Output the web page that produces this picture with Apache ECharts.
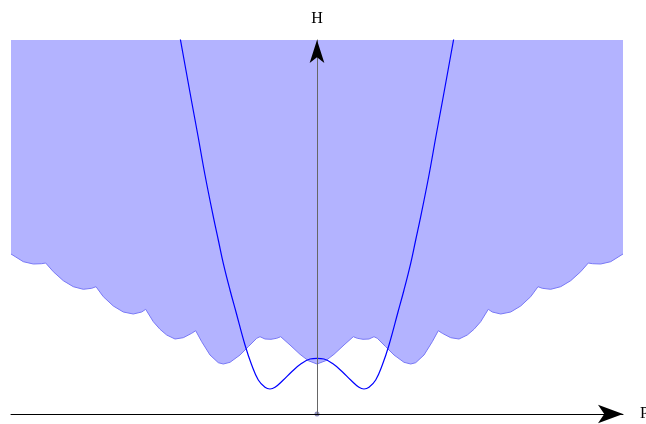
<!DOCTYPE html>
<html>
<head>
<meta charset="utf-8">
<script src="https://cdn.jsdelivr.net/npm/echarts@6/dist/echarts.min.js"></script>
<style>
  html, body { margin: 0; padding: 0; background: #fff; }
  #chart { width: 646px; height: 424px; }
</style>
</head>
<body>
<div id="chart"></div>
<script>
// lower edge of the shaded band (P, H)
var bandP = [
  -6.12, -5.874, -5.674, -5.506, -5.426, -5.274, -5.074, -4.874, -4.674, -4.506, -4.42,
  -4.274, -4.074, -3.874, -3.674, -3.506, -3.426, -3.274, -3.14, -3.006, -2.84, -2.674,
  -2.506, -2.426, -2.306, -2.14, -1.974, -1.874, -1.74, -1.54, -1.374, -1.206, -1.14,
  -1.04, -0.92, -0.806, -0.726, -0.54, -0.34, -0.174, 0,
  0.174, 0.34, 0.54, 0.726, 0.806, 0.92, 1.04, 1.14, 1.206, 1.374, 1.54, 1.74, 1.874,
  1.974, 2.14, 2.306, 2.426, 2.506, 2.674, 2.84, 3.006, 3.14, 3.274, 3.426, 3.506, 3.674,
  3.874, 4.074, 4.274, 4.42, 4.506, 4.674, 4.874, 5.074, 5.274, 5.426, 5.506, 5.674,
  5.874, 6.12
]
var bandH = [
  3.20, 3.046, 3.00, 3.006, 3.02, 2.846, 2.666, 2.546, 2.494, 2.514, 2.546,
  2.346, 2.16, 2.04, 2.00, 2.04, 2.094, 1.846, 1.694, 1.58, 1.50, 1.526,
  1.614, 1.666, 1.446, 1.18, 1.026, 1.00, 1.034, 1.18, 1.346, 1.514, 1.546,
  1.50, 1.494, 1.514, 1.546, 1.38, 1.194, 1.066, 1.0,
  1.066, 1.194, 1.38, 1.546, 1.514, 1.494, 1.50, 1.546, 1.514, 1.346, 1.18, 1.034, 1.00,
  1.026, 1.18, 1.446, 1.666, 1.614, 1.526, 1.50, 1.58, 1.694, 1.846, 2.094, 2.04, 2.00,
  2.04, 2.16, 2.346, 2.546, 2.514, 2.494, 2.546, 2.666, 2.846, 3.02, 3.006, 3.00,
  3.046, 3.20
]

// double well curve (P, H)
var wellP = [
  -2.734, -2.62, -2.50, -2.38, -2.24, -2.074, -1.974, -1.874, -1.74, -1.62, -1.44,
  -1.306, -1.174, -1.04, -0.94, -0.84, -0.674, -0.506, -0.306, -0.14, 0,
  0.14, 0.306, 0.506, 0.674, 0.84, 0.94, 1.04, 1.174, 1.306, 1.44, 1.62, 1.74,
  1.874, 1.974, 2.074, 2.24, 2.38, 2.50, 2.62, 2.734
]
var wellH = [
  7.50, 6.87, 6.21, 5.56, 4.78, 3.946, 3.48, 3.014, 2.48, 2.04, 1.38,
  0.98, 0.68, 0.534, 0.50, 0.534, 0.68, 0.846, 1.014, 1.10, 1.114,
  1.10, 1.014, 0.846, 0.68, 0.534, 0.50, 0.534, 0.68, 0.98, 1.38, 2.04, 2.48,
  3.014, 3.48, 3.946, 4.78, 5.56, 6.21, 6.87, 7.50
]

var pMin = -6.12
var pMax = 6.12
var hMax = 7.48

var gridLeft = 11
var gridRight = 23
var plotWidth = 646 - gridLeft - gridRight

function pairs (xs, ys) {
  return xs.map(function (x, i) { return [x, ys[i]] })
}

var serif = 'Liberation Serif'
var bare = {
  axisTick: { show: false },
  axisLabel: { show: false },
  splitLine: { show: false }
}
var chart = echarts.init(document.getElementById('chart'), null, { renderer: 'canvas' })
chart.setOption({
  animation: false,
  grid: { left: gridLeft, right: gridRight, top: 40, bottom: 10, outerBoundsMode: 'none', containLabel: false },
  xAxis: Object.assign({
    type: 'value',
    min: pMin,
    max: pMax,
    z: 5,
    name: 'P',
    nameLocation: 'end',
    nameGap: 17,
    nameTextStyle: { fontFamily: serif, fontSize: 16, color: '#000' },
    axisLine: {
      onZero: true,
      symbol: ['none', 'arrow'],
      symbolSize: [14, 25],
      lineStyle: { color: '#000', width: 1 }
    }
  }, bare),
  yAxis: [
    Object.assign({
      type: 'value',
      min: 0,
      max: hMax,
      z: 5,
      name: 'H',
      nameLocation: 'end',
      nameGap: 13,
      nameTextStyle: { fontFamily: serif, fontSize: 16, color: '#000' },
      axisLine: {
        onZero: true,
        lineStyle: { color: '#666', width: 1 }
      }
    }, bare),
    // second copy only carries the black arrow head, shifted onto P = 0
    Object.assign({
      type: 'value',
      min: 0,
      max: hMax,
      z: 6,
      position: 'left',
      offset: -plotWidth * (0 - pMin) / (pMax - pMin),
      axisLine: {
        onZero: false,
        symbol: ['none', 'arrow'],
        symbolSize: [11, 23],
        lineStyle: { color: '#000', width: 0 }
      }
    }, bare)
  ],
  series: [
    {
      type: 'line',
      data: pairs(bandP, bandH),
      symbol: 'none',
      lineStyle: { color: '#7878f5', width: 1 },
      areaStyle: { color: '#b3b3ff', opacity: 1, origin: 'end' },
      z: 1
    },
    {
      type: 'line',
      data: pairs(wellP, wellH),
      symbol: 'none',
      smooth: 0.4,
      lineStyle: { color: '#0000ff', width: 1.2 },
      z: 3
    },
    {
      type: 'scatter',
      data: [[0, 0]],
      symbolSize: 5,
      itemStyle: { color: '#7070a8' },
      z: 4
    }
  ]
})
</script>
</body>
</html>
